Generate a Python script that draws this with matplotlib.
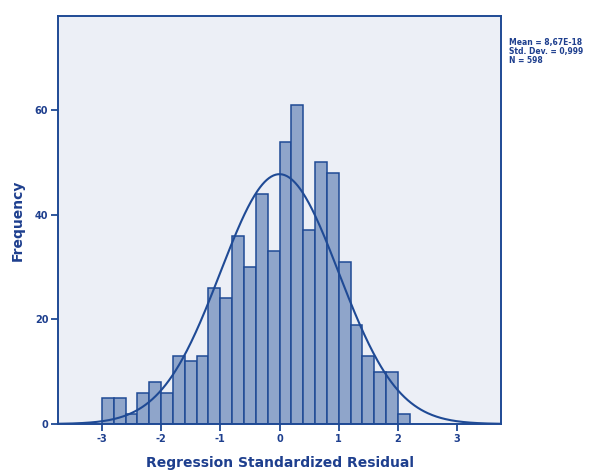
import numpy as np
import matplotlib
matplotlib.use("Agg")
import matplotlib.pyplot as plt

# Histogram data (bin width 0.2, starting at -3.0)
bin_edges = [round(-3.0 + 0.2 * i, 1) for i in range(27)]
counts = [5, 5, 2, 6, 8, 6, 13, 12, 13, 26, 24, 36, 30, 44, 33,
          54, 61, 37, 50, 48, 31, 19, 13, 10, 10, 2]
x_ticks = [-3, -2, -1, 0, 1, 2, 3]
y_ticks = [0, 20, 40, 60]
stat_mean = 8.67e-18
stat_sd = 0.999
stat_n = 598
stats_text = ["Mean = 8,67E-18", "Std. Dev. = 0,999", "N = 598"]

DARK = "#1F4A95"
TEXT = "#1E3F8E"
FILL = "#8FA5CA"
BG = "#ECEFF6"

W, H = 598, 471
fig = plt.figure(figsize=(W / 100, H / 100), dpi=100)
ax = fig.add_axes([58 / W, 1 - 424 / H, (501 - 58) / W, (424 - 16) / H])
ax.set_facecolor(BG)

lefts = np.array(bin_edges[:-1])
widths = np.diff(bin_edges)
ax.bar(lefts, counts, width=widths, align="edge", color=FILL,
       edgecolor=DARK, linewidth=1.1, zorder=2)

xlim = (-3.74, 3.74)
xs = np.linspace(xlim[0], xlim[1], 400)
bw = 0.2
ys = stat_n * bw / (stat_sd * np.sqrt(2 * np.pi)) * np.exp(-0.5 * ((xs - stat_mean) / stat_sd) ** 2)
ax.plot(xs, ys, color=DARK, linewidth=1.5, zorder=3)

ax.set_xlim(*xlim)
ax.set_ylim(0, 78)
ax.set_xticks(x_ticks)
ax.set_yticks(y_ticks)
ax.set_xticklabels([str(t) for t in x_ticks])
ax.set_yticklabels([str(t) for t in y_ticks])

for s in ax.spines.values():
    s.set_color(DARK)
    s.set_linewidth(1.4)

ax.tick_params(axis="both", colors=DARK, length=5, width=1.3, direction="out",
               labelcolor=TEXT, labelsize=7, pad=2)
for lab in ax.get_xticklabels() + ax.get_yticklabels():
    lab.set_fontweight("bold")
    lab.set_family("DejaVu Sans")

ax.set_xlabel("Regression Standardized Residual", fontsize=10, fontweight="bold",
              color=TEXT, family="DejaVu Sans", labelpad=9)
ax.set_ylabel("Frequency", fontsize=10, fontweight="bold", color=TEXT,
              family="DejaVu Sans", va="center")
ax.yaxis.set_label_coords((18 - 58) / (501 - 58), 0.5)

for i, t in enumerate(stats_text):
    fig.text(509 / W, 1 - (42.5 + 9 * i) / H, t, fontsize=5.5, fontweight="bold",
             color=TEXT, family="DejaVu Sans", va="center", ha="left")

fig.savefig("out.png", dpi=100, facecolor="white")
